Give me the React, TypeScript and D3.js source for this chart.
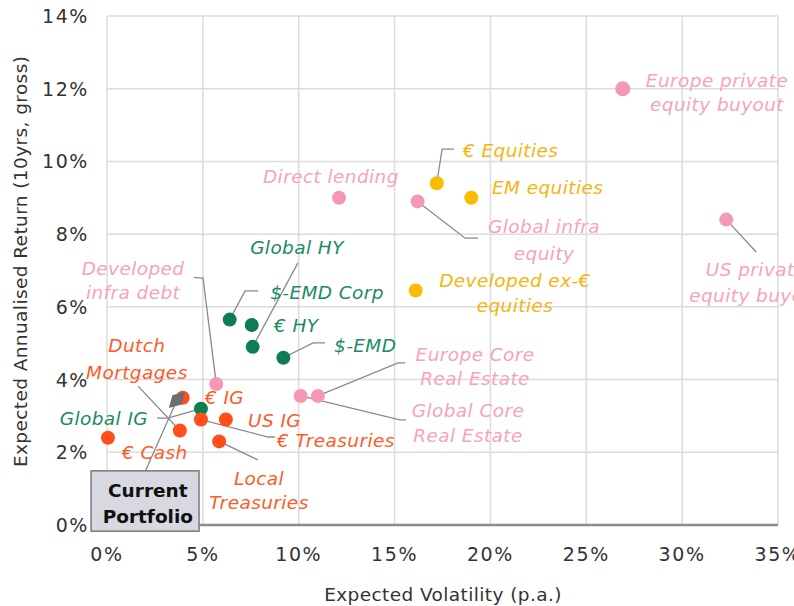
import React from 'react';
import * as d3 from 'd3';

// 資産クラス(ボラティリティ %, リターン %)
const names = [
  'Direct lending', 'Europe private equity buyout', 'Global infra equity', 'US private equity buyout',
  'Developed infra debt', 'Europe Core Real Estate', 'Global Core Real Estate',
  '€ Equities', 'EM equities', 'Developed ex-€ equities',
  '$-EMD Corp', '€ HY', 'Global HY', '$-EMD', 'Global IG',
  '€ Cash', 'Dutch Mortgages', '€ IG', 'US IG', '€ Treasuries', 'Local Treasuries',
];
const vols = [12.1, 26.9, 16.2, 32.3, 5.7, 11.0, 10.1, 17.2, 19.0, 16.1, 6.4, 7.55, 7.6, 9.2, 4.9, 0.05, 3.8, 3.95, 6.2, 4.9, 5.85];
const rets = [9.0, 12.0, 8.9, 8.4, 3.88, 3.55, 3.55, 9.4, 9.0, 6.45, 5.65, 5.5, 4.9, 4.6, 3.2, 2.4, 2.6, 3.5, 2.9, 2.9, 2.3];
const groups = [
  'alts', 'alts', 'alts', 'alts', 'alts', 'alts', 'alts',
  'equity', 'equity', 'equity',
  'credit', 'credit', 'credit', 'credit', 'credit',
  'rates', 'rates', 'rates', 'rates', 'rates', 'rates',
];
const portfolioName = ['Current', 'Portfolio'];
const portfolioVol = 3.65;
const portfolioRet = 3.44;

const xTicks = [0, 5, 10, 15, 20, 25, 30, 35];
const yTicks = [0, 2, 4, 6, 8, 10, 12, 14];
const xTitle = 'Expected Volatility (p.a.)';
const yTitle = 'Expected Annualised Return (10yrs, gross)';

const colors: Record<string, string> = {
  alts: '#f598b1',
  equity: '#f8bd00',
  credit: '#0f7d52',
  rates: '#ff4e17',
};
const textColors: Record<string, string> = {
  alts: '#f7a3b9',
  equity: '#f6b40f',
  credit: '#1b8a68',
  rates: '#ff5a26',
};

// ラベル配置(データ座標)とリーダー線
type Lbl = { x: number; y: number; anchor: 'start' | 'middle' | 'end'; lines: string[]; gap?: number; leader?: [number, number][] };
const labels: Record<string, Lbl> = {
  'Direct lending': { x: 11.68, y: 9.6, anchor: 'middle', lines: ['Direct lending'] },
  'Europe private equity buyout': { x: 31.82, y: 12.24, anchor: 'middle', lines: ['Europe private', 'equity buyout'], gap: 24 },
  'Global infra equity': { x: 22.8, y: 8.22, anchor: 'middle', lines: ['Global infra', 'equity'], gap: 27, leader: [[18.68, 7.89], [19.35, 7.89]] },
  'US private equity buyout': { x: 33.86, y: 7.04, anchor: 'middle', lines: ['US private', 'equity buyout'], gap: 26, leader: [[33.86, 7.51]] },
  'Developed infra debt': { x: 1.36, y: 7.07, anchor: 'middle', lines: ['Developed', 'infra debt'], gap: 24, leader: [[5.01, 6.79], [4.54, 6.81]] },
  'Europe Core Real Estate': { x: 19.2, y: 4.7, anchor: 'middle', lines: ['Europe Core', 'Real Estate'], gap: 24, leader: [[15.18, 4.46], [15.55, 4.46]] },
  'Global Core Real Estate': { x: 18.83, y: 3.16, anchor: 'middle', lines: ['Global Core', 'Real Estate'], gap: 25, leader: [[15.28, 2.89], [15.6, 2.89]] },
  '€ Equities': { x: 18.57, y: 10.31, anchor: 'start', lines: ['€ Equities'], leader: [[17.48, 10.34], [18.1, 10.34]] },
  'EM equities': { x: 20.08, y: 9.3, anchor: 'start', lines: ['EM equities'] },
  'Developed ex-€ equities': { x: 21.28, y: 6.74, anchor: 'middle', lines: ['Developed ex-€', 'equities'], gap: 25 },
  '$-EMD Corp': { x: 11.48, y: 6.41, anchor: 'middle', lines: ['$-EMD Corp'], leader: [[7.2, 6.44], [7.88, 6.44]] },
  '€ HY': { x: 8.71, y: 5.5, anchor: 'start', lines: ['€ HY'] },
  'Global HY': { x: 9.91, y: 7.65, anchor: 'middle', lines: ['Global HY'], leader: [[9.96, 7.21]] },
  '$-EMD': { x: 11.84, y: 4.95, anchor: 'start', lines: ['$-EMD'], leader: [[10.75, 5.01], [11.37, 5.01]] },
  'Global IG': { x: 2.14, y: 2.94, anchor: 'end', lines: ['Global IG'], leader: [[3.18, 2.94], [2.61, 2.94]] },
  '€ Cash': { x: 0.78, y: 2.01, anchor: 'start', lines: ['€ Cash'] },
  'Dutch Mortgages': { x: 1.56, y: 4.95, anchor: 'middle', lines: ['Dutch', 'Mortgages'], gap: 27, leader: [[1.62, 3.82]] },
  '€ IG': { x: 5.11, y: 3.52, anchor: 'start', lines: ['€ IG'] },
  'US IG': { x: 7.36, y: 2.89, anchor: 'start', lines: ['US IG'] },
  '€ Treasuries': { x: 8.87, y: 2.34, anchor: 'start', lines: ['€ Treasuries'], leader: [[8.4, 2.42], [8.76, 2.42]] },
  'Local Treasuries': { x: 7.93, y: 1.29, anchor: 'middle', lines: ['Local', 'Treasuries'], gap: 24, leader: [[7.88, 1.79]] },
};

const W = 794;
const H = 606;
const FONT = "'DejaVu Sans', 'Open Sans', sans-serif";

const App: React.FC = () => {
  const x = d3.scaleLinear().domain([0, 35]).range([107, 778]);
  const y = d3.scaleLinear().domain([0, 14]).range([525, 16]);
  const line = d3.line<[number, number]>().x(d => x(d[0])).y(d => y(d[1]));

  const pts = names.map((n, i) => ({ name: n, vol: vols[i], ret: rets[i], group: groups[i] }));

  // 現在のポートフォリオのボックス(データ座標)
  const box = { x0: -0.83, x1: 4.8, y0: 1.49, y1: -0.17 };
  const diamond = d3.symbol().type(d3.symbolDiamond).size(150)();

  return (
    <div style={{ position: 'fixed', left: 0, top: 0 }}>
      <svg width={W} height={H} style={{ display: 'block', background: '#fff' }} fontFamily={FONT}>
        {/* グリッド */}
        <g stroke="#dcdcdc" strokeWidth={1.5}>
          {xTicks.slice(1).map(t => (
            <line key={'gx' + t} x1={x(t)} x2={x(t)} y1={y(14)} y2={y(0)} />
          ))}
          {yTicks.slice(1).map(t => (
            <line key={'gy' + t} x1={x(0)} x2={x(35)} y1={y(t)} y2={y(t)} />
          ))}
          <line x1={x(0)} x2={x(0)} y1={y(14)} y2={y(0)} />
        </g>
        <line x1={x(0)} x2={x(35)} y1={y(0)} y2={y(0)} stroke="#8c8c8c" strokeWidth={2.5} />

        {/* 目盛りラベル */}
        <g fill="#333" fontSize={19} letterSpacing={1.6}>
          {yTicks.map(t => (
            <text key={'ty' + t} x={89} y={y(t)} textAnchor="end" dominantBaseline="central">{t}%</text>
          ))}
          {xTicks.map(t => (
            <text key={'tx' + t} x={x(t)} y={554} textAnchor="middle" dominantBaseline="central">{t}%</text>
          ))}
        </g>
        <text x={443} y={594} textAnchor="middle" dominantBaseline="central" fill="#333" fontSize={18.5} letterSpacing={0.4}>{xTitle}</text>
        <text transform={`translate(20,${y(7.25)}) rotate(-90)`} textAnchor="middle" dominantBaseline="central" fill="#333" fontSize={18.5} letterSpacing={0.4}>{yTitle}</text>

        {/* リーダー線 */}
        <g fill="none" stroke="#8a8a8a" strokeWidth={1.3}>
          {pts.map(p => {
            const l = labels[p.name];
            if (!l || !l.leader) return null;
            return <path key={'ld' + p.name} d={line([[p.vol, p.ret], ...l.leader]) || ''} />;
          })}
          <path d={line([[portfolioVol, portfolioRet], [1.98, 1.46]]) || ''} />
        </g>

        {/* 点 */}
        {pts.map(p => (
          <circle key={'pt' + p.name} cx={x(p.vol)} cy={y(p.ret)} r={p.name.startsWith('Europe private') ? 7.5 : 7} fill={colors[p.group]} />
        ))}
        <path d={diamond || ''} transform={`translate(${x(portfolioVol)},${y(portfolioRet)}) rotate(45)`} fill="#6e6e6e" />

        {/* ラベル */}
        <g fontStyle="italic" fontSize={18.5} letterSpacing={0.4}>
          {pts.map(p => {
            const l = labels[p.name];
            return (
              <text key={'lb' + p.name} x={x(l.x)} y={y(l.y)} textAnchor={l.anchor} dominantBaseline="central" fill={textColors[p.group]}>
                {l.lines.map((s, j) => (
                  <tspan key={j} x={x(l.x)} dy={j === 0 ? 0 : l.gap}>{s}</tspan>
                ))}
              </text>
            );
          })}
        </g>

        {/* 現在のポートフォリオ */}
        <rect x={x(box.x0)} y={y(box.y0)} width={x(box.x1) - x(box.x0)} height={y(box.y1) - y(box.y0)} fill="#d8d8e0" stroke="#7a7a7a" strokeWidth={1.5} />
        <text x={x(2.13)} y={y(0.96)} textAnchor="middle" dominantBaseline="central" fontWeight="bold" fontSize={18.5} fill="#111">
          <tspan x={x(2.13)}>{portfolioName[0]}</tspan>
          <tspan x={x(2.13)} dy={26}>{portfolioName[1]}</tspan>
        </text>
      </svg>
    </div>
  );
};

export default App;
